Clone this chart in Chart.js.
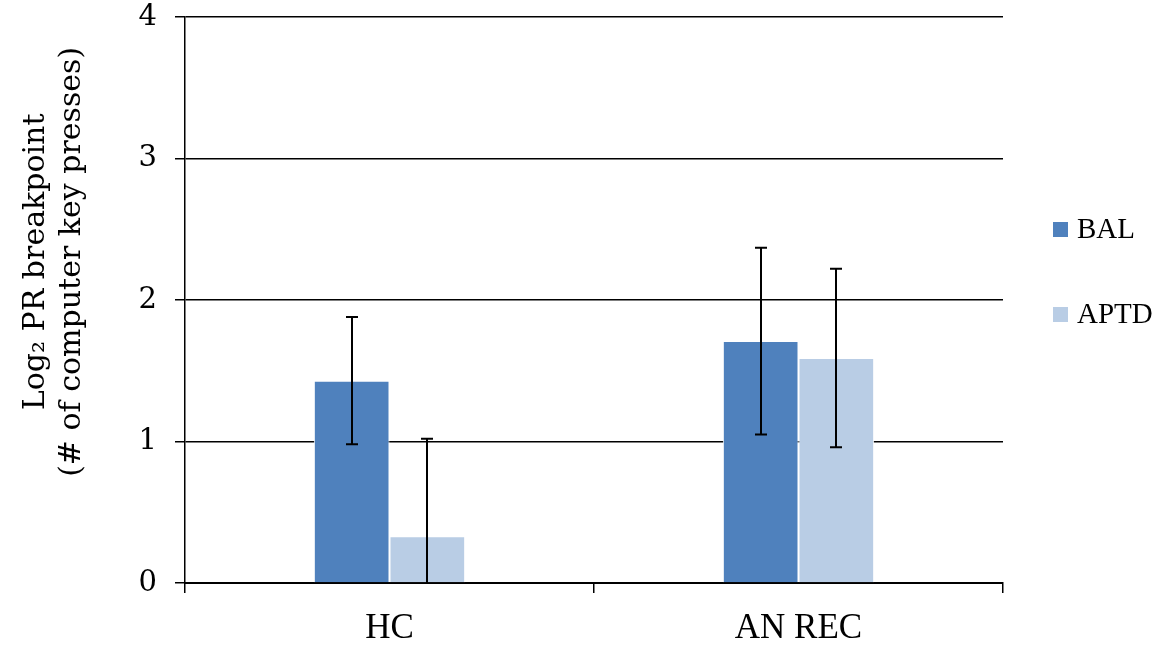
<!DOCTYPE html>
<html>
<head>
<meta charset="utf-8">
<script src="https://cdn.jsdelivr.net/npm/chart.js@4/dist/chart.umd.min.js"></script>
<style>
  html, body { margin: 0; padding: 0; background: #fff; }
  #wrap { width: 1176px; height: 646px; }
</style>
</head>
<body>
<div id="wrap"><canvas id="chart" width="1176" height="646"></canvas></div>
<script>
const categories = ["HC", "AN REC"];
const seriesNames = ["BAL", "APTD"];
const balValues = [1.43, 1.71];
const aptdValues = [0.33, 1.59];
const balErrors = [0.45, 0.66];
const aptdErrors = [0.69, 0.63];
const yTicks = [0, 1, 2, 3, 4];
const seriesColors = ["#4F81BD", "#B9CDE5"];

const serif = "'Liberation Serif', 'Times New Roman', Times, serif";
const wideSerif = "'DejaVu Serif', Georgia, serif";

// leading spaces push the rotated title up a little, like the original
const titlePad = "\u00a0".repeat(8);

// error bars drawn on top of each bar, clipped to the plot area
const errorBars = {
    id: "errorBars",
    afterDatasetsDraw(chart) {
        const ctx = chart.ctx;
        const y = chart.scales.y;
        const area = chart.chartArea;
        ctx.save();
        ctx.beginPath();
        ctx.rect(area.left, area.top - 20, area.right - area.left, area.bottom - area.top + 20);
        ctx.clip();
        ctx.strokeStyle = "#000";
        ctx.lineWidth = 2;
        chart.data.datasets.forEach((ds, di) => {
            const meta = chart.getDatasetMeta(di);
            meta.data.forEach((bar, i) => {
                const v = ds.data[i];
                const e = ds.errors[i];
                const top = y.getPixelForValue(v + e);
                const bot = y.getPixelForValue(Math.max(v - e, y.min));
                const x = Math.round(bar.x);
                ctx.beginPath();
                ctx.moveTo(x, top);
                ctx.lineTo(x, bot);
                ctx.moveTo(x - 6, top);
                ctx.lineTo(x + 6, top);
                if (v - e >= y.min) {
                    ctx.moveTo(x - 6, bot);
                    ctx.lineTo(x + 6, bot);
                }
                ctx.stroke();
            });
        });
        ctx.restore();
    }
};

// legend at the right, spaced like the original
const sideLegend = {
    id: "sideLegend",
    afterDraw(chart) {
        const ctx = chart.ctx;
        ctx.save();
        ctx.font = "29px " + serif;
        ctx.textBaseline = "middle";
        chart.data.datasets.forEach((ds, i) => {
            const cy = 229 + i * 85;
            ctx.fillStyle = ds.backgroundColor;
            ctx.fillRect(1053, cy - 7, 15, 15);
            ctx.fillStyle = "#000";
            ctx.fillText(ds.label, 1077, cy + 1);
        });
        ctx.restore();
    }
};

function draw() {
    new Chart(document.getElementById("chart"), {
        type: "bar",
        data: {
            labels: categories,
            datasets: [
                { label: seriesNames[0], data: balValues, errors: balErrors, backgroundColor: seriesColors[0], borderColor: "#fff", borderWidth: 1 },
                { label: seriesNames[1], data: aptdValues, errors: aptdErrors, backgroundColor: seriesColors[1], borderColor: "#fff", borderWidth: 1 }
            ]
        },
        options: {
            responsive: false,
            animation: false,
            layout: { padding: { top: 17, right: 173, left: 0, bottom: 0 } },
            plugins: {
                legend: { display: false },
                tooltip: { enabled: false }
            },
            datasets: { bar: { barPercentage: 1, categoryPercentage: 0.37 } },
            scales: {
                x: {
                    grid: { display: true, offset: true, drawOnChartArea: false, color: "#000", lineWidth: 1.5, tickLength: 10 },
                    border: { display: true, color: "#000", width: 2 },
                    ticks: { color: "#000", font: { family: serif, size: 35 }, padding: 15 },
                    afterFit: s => { s.height = 63; }
                },
                y: {
                    min: 0,
                    max: 4,
                    afterBuildTicks: s => { s.ticks = yTicks.map(v => ({ value: v })); },
                    grid: { color: "#000", lineWidth: 1.5, tickLength: 10 },
                    border: { display: true, color: "#000", width: 1.5 },
                    ticks: { color: "#000", font: { family: wideSerif, size: 29 }, padding: 18 },
                    title: {
                        display: true,
                        text: [titlePad + "Log\u2082 PR breakpoint", titlePad + "(# of computer key presses)"],
                        color: "#000",
                        font: { family: wideSerif, size: 30, lineHeight: 1.2 },
                        padding: { top: 18, bottom: 18 }
                    },
                    afterFit: s => { s.width = 185; s.paddingTop = 0; s.paddingBottom = 0; }
                }
            }
        },
        plugins: [errorBars, sideLegend]
    });
}

Promise.all([
    document.fonts.load("30px 'Liberation Serif'"),
    document.fonts.load("26px 'DejaVu Serif'")
]).then(draw, draw);
</script>
</body>
</html>
